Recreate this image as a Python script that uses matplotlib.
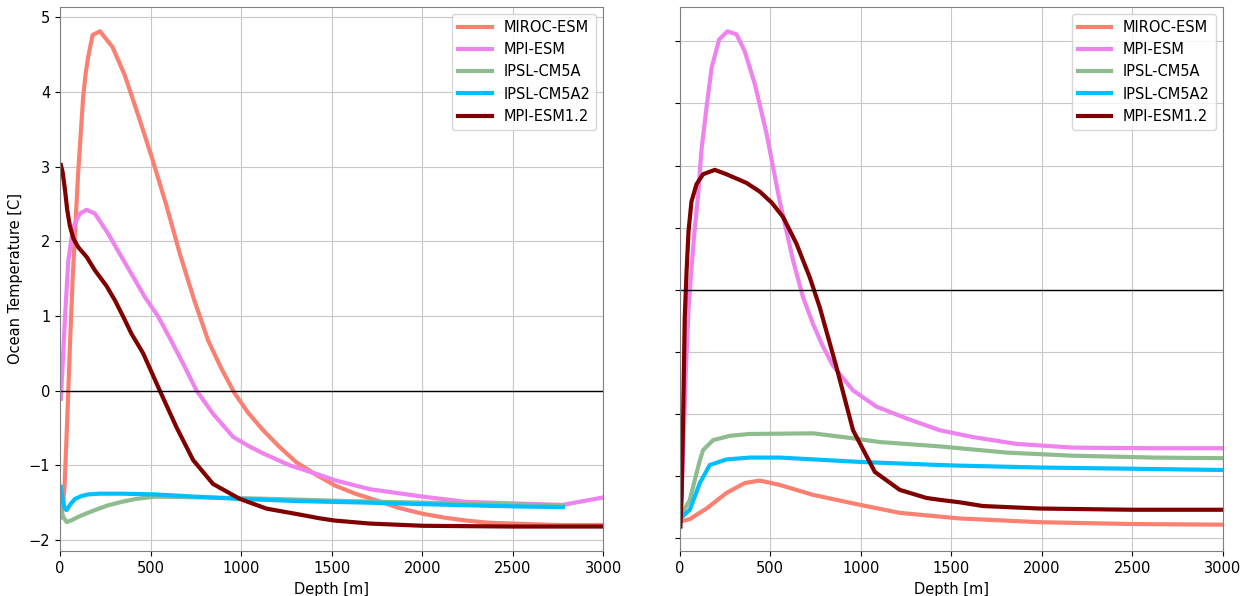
import numpy as np
import matplotlib.pyplot as plt

plt.rcParams['font.size'] = 10.5

models = ['MIROC-ESM', 'MPI-ESM', 'IPSL-CM5A', 'IPSL-CM5A2', 'MPI-ESM1.2']
colors = ['salmon', 'violet', 'darkseagreen', 'deepskyblue', 'maroon']

# left panel: ocean temperature profiles
miroc_d = [5, 10, 25, 40, 55, 70, 85, 100, 115, 128, 142, 156, 180, 221, 290, 358, 430, 506,
           585, 662, 740, 818, 890, 965, 1040, 1121, 1210, 1305, 1410, 1517, 1630, 1747, 1870,
           2004, 2120, 2243, 2370, 2500, 2750, 3000]
miroc_t = [-1.70, -1.69, -1.30, -0.40, 0.60, 1.50, 2.20, 2.90, 3.45, 3.93, 4.25, 4.47, 4.76,
           4.81, 4.60, 4.22, 3.70, 3.13, 2.50, 1.83, 1.22, 0.67, 0.30, -0.04, -0.30, -0.53,
           -0.75, -0.96, -1.12, -1.27, -1.38, -1.47, -1.57, -1.65, -1.70, -1.74, -1.77, -1.78,
           -1.80, -1.80]

mpi_d = [5, 28, 46, 73, 110, 147, 193, 266, 340, 405, 469, 540, 607, 680, 754, 845, 956,
         1040, 1121, 1268, 1434, 1517, 1710, 2004, 2243, 2500, 2776, 3000]
mpi_t = [-0.11, 0.99, 1.74, 2.19, 2.37, 2.42, 2.37, 2.10, 1.79, 1.52, 1.25, 1.00, 0.70, 0.36,
         0.00, -0.31, -0.62, -0.74, -0.84, -1.00, -1.13, -1.20, -1.32, -1.42, -1.49, -1.51,
         -1.53, -1.43]

ipsl_d = [5, 20, 37, 60, 101, 150, 193, 260, 340, 420, 524, 772, 1000, 1324, 1600, 2004,
          2500, 2776]
ipsl_t = [-1.60, -1.70, -1.76, -1.74, -1.69, -1.64, -1.60, -1.54, -1.49, -1.45, -1.42, -1.43,
          -1.44, -1.46, -1.48, -1.50, -1.52, -1.54]

ipsl2_d = [5, 15, 25, 37, 55, 83, 120, 156, 220, 340, 524, 750, 993, 1324, 1700, 2004, 2500,
           2776]
ipsl2_t = [-1.29, -1.45, -1.57, -1.60, -1.53, -1.45, -1.41, -1.39, -1.38, -1.38, -1.39, -1.42,
           -1.45, -1.48, -1.50, -1.52, -1.55, -1.56]

mpi12_d = [5, 15, 28, 40, 55, 75, 101, 147, 193, 257, 303, 349, 395, 459, 551, 643, 735, 845,
           993, 1140, 1324, 1434, 1517, 1710, 2004, 2500, 3000]
mpi12_t = [3.02, 2.92, 2.68, 2.42, 2.20, 2.03, 1.92, 1.79, 1.61, 1.40, 1.21, 0.99, 0.76, 0.50,
           0.00, -0.49, -0.93, -1.25, -1.45, -1.58, -1.66, -1.71, -1.74, -1.78, -1.81, -1.82,
           -1.82]

# right panel
r_miroc_d = [5, 57, 149, 259, 360, 443, 553, 737, 995, 1216, 1436, 1547, 1988, 2503, 3000]
r_miroc_v = [-3.73, -3.69, -3.52, -3.27, -3.11, -3.07, -3.14, -3.30, -3.46, -3.59, -3.65,
             -3.68, -3.74, -3.77, -3.78]

r_mpi_d = [5, 20, 35, 50, 60, 80, 103, 121, 149, 177, 219, 265, 315, 360, 416, 480, 553, 627,
           682, 737, 790, 847, 958, 1087, 1253, 1436, 1620, 1860, 2172, 2613, 3000]
r_mpi_v = [-3.72, -2.60, -1.30, -0.30, 0.10, 0.85, 1.54, 2.24, 2.93, 3.57, 4.03, 4.16, 4.11,
           3.84, 3.31, 2.52, 1.43, 0.47, -0.12, -0.55, -0.90, -1.22, -1.62, -1.88, -2.07,
           -2.26, -2.37, -2.48, -2.54, -2.55, -2.55]

r_ipsl_d = [5, 57, 94, 112, 130, 185, 278, 388, 737, 958, 1105, 1436, 1547, 1805, 2172, 2613,
            3000]
r_ipsl_v = [-3.65, -3.38, -2.95, -2.75, -2.58, -2.42, -2.35, -2.32, -2.31, -2.39, -2.45,
            -2.52, -2.55, -2.62, -2.67, -2.70, -2.71]

r_ipsl2_d = [5, 57, 112, 167, 259, 388, 553, 995, 1436, 1547, 1988, 2503, 3000]
r_ipsl2_v = [-3.68, -3.54, -3.11, -2.82, -2.73, -2.70, -2.70, -2.77, -2.82, -2.83, -2.86,
             -2.88, -2.90]

r_mpi12_d = [5, 12, 20, 29, 39, 50, 66, 94, 130, 195, 259, 370, 443, 510, 572, 646, 719, 774,
             866, 958, 1078, 1216, 1363, 1436, 1547, 1675, 1988, 2503, 3000]
r_mpi12_v = [-3.81, -3.30, -2.04, -0.44, 0.30, 0.95, 1.42, 1.70, 1.86, 1.93, 1.86, 1.72, 1.58,
             1.40, 1.17, 0.74, 0.20, -0.28, -1.24, -2.26, -2.93, -3.22, -3.35, -3.38, -3.42,
             -3.48, -3.52, -3.54, -3.54]

left = [(miroc_d, miroc_t), (mpi_d, mpi_t), (ipsl_d, ipsl_t), (ipsl2_d, ipsl2_t),
        (mpi12_d, mpi12_t)]
right = [(r_miroc_d, r_miroc_v), (r_mpi_d, r_mpi_v), (r_ipsl_d, r_ipsl_v),
         (r_ipsl2_d, r_ipsl2_v), (r_mpi12_d, r_mpi12_v)]

fig, (ax1, ax2) = plt.subplots(1, 2, figsize=(12.6, 5.96), dpi=100)
fig.subplots_adjust(left=0.0476, right=0.9706, top=0.989, bottom=0.075, wspace=0.14)

for ax, data in [(ax1, left), (ax2, right)]:
    for (d, v), name, c in zip(data, models, colors):
        ax.plot(d, v, color=c, lw=3, label=name)
    ax.axhline(0, color='k', lw=1)
    ax.set_xlim(0, 3000)
    ax.set_xticks([0, 500, 1000, 1500, 2000, 2500, 3000])
    ax.set_xlabel('Depth [m]')
    ax.grid(True, color='0.78')
    ax.legend(loc='upper right', handlelength=2.3)
    for s in ax.spines.values():
        s.set_color('0.5')

ax1.set_ylabel('Ocean Temperature [C]')
ax1.set_yticks([-2, -1, 0, 1, 2, 3, 4, 5])
ax2.set_yticks([-4, -3, -2, -1, 0, 1, 2, 3, 4])
ax2.set_yticklabels([])

plt.savefig('out.png')
